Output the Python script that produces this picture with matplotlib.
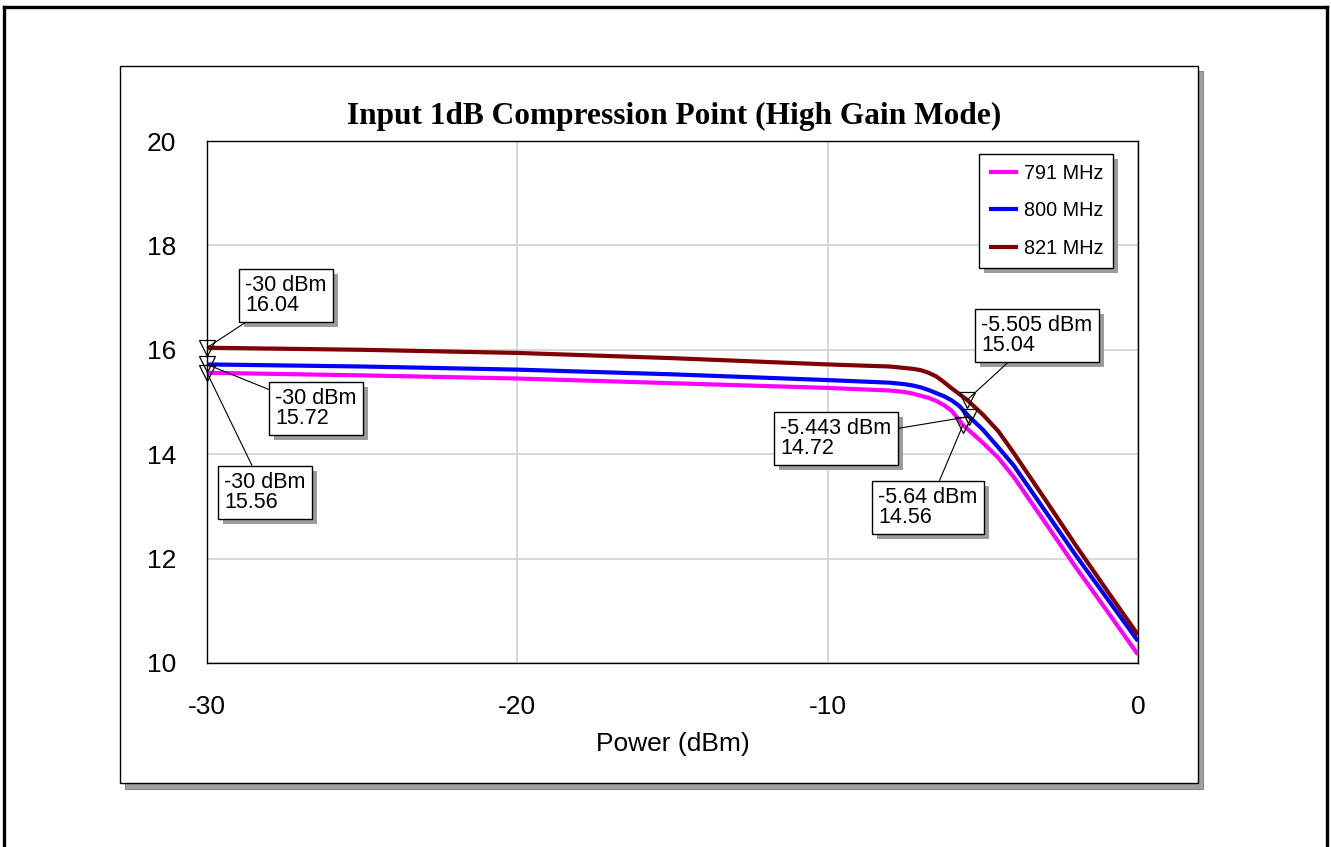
#!/usr/bin/env python3
"""Input P1dB compression sweep, high gain mode, three LTE band frequencies."""

import matplotlib
matplotlib.use('Agg')
import matplotlib.pyplot as plt
from matplotlib.patches import Rectangle
from matplotlib.lines import Line2D
from matplotlib.transforms import IdentityTransform

# Gain (dB) vs input power (dBm), one curve per carrier
pin_821 = [-30, -25, -20, -15, -10, -8, -7.5, -7.25, -7, -6.75, -6.5, -6.25, -6, -5.505,
           -5, -4.5, -4, -3, -2, -1, 0]
gain_821 = [16.04, 16.00, 15.94, 15.84, 15.72, 15.68, 15.65, 15.635, 15.61, 15.56, 15.49,
            15.38, 15.26, 15.04, 14.76, 14.44, 14.02, 13.14, 12.25, 11.39, 10.54]

pin_800 = [-30, -25, -20, -15, -10, -8, -7.5, -7.25, -7, -6.75, -6.5, -6.25, -6, -5.75,
           -5.443, -5, -4.5, -4, -3, -2, -1, 0]
gain_800 = [15.72, 15.68, 15.62, 15.53, 15.42, 15.37, 15.34, 15.315, 15.28, 15.23, 15.17,
            15.11, 15.03, 14.92, 14.72, 14.47, 14.13, 13.78, 12.92, 12.06, 11.24, 10.42]

pin_791 = [-30, -25, -20, -15, -10, -8, -7.5, -7.25, -7, -6.75, -6.5, -6.25, -6, -5.64,
           -5, -4.5, -4, -3, -2, -1, 0]
gain_791 = [15.56, 15.51, 15.45, 15.36, 15.27, 15.22, 15.19, 15.16, 15.12, 15.08, 15.02,
            14.94, 14.83, 14.56, 14.22, 13.93, 13.56, 12.70, 11.83, 11.00, 10.16]

series = [
    ('791 MHz', pin_791, gain_791, '#ff00ff'),
    ('800 MHz', pin_800, gain_800, '#0000ff'),
    ('821 MHz', pin_821, gain_821, '#800000'),
]

# marker readouts
mk_pin = [-30, -30, -30, -5.505, -5.443, -5.64]
mk_gain = [16.04, 15.72, 15.56, 15.04, 14.72, 14.56]

x_ticks = [-30, -20, -10, 0]
y_ticks = [10, 12, 14, 16, 18, 20]

W, H = 1331, 847
SANS = 'Liberation Sans'
SHADOW = '#9c9c9c'


def fx(px):
    return px / W


def fy(py):
    return 1 - py / H


fig = plt.figure(figsize=(W / 100, H / 100), dpi=100)

# outer frame (bottom edge runs off the page)
for xs, ys in [((4, 4), (847, 7)), ((4, 1327), (7, 7)), ((1327, 1327), (7, 847))]:
    fig.add_artist(Line2D([fx(v) for v in xs], [fy(v) for v in ys],
                          color='black', lw=2.4, transform=fig.transFigure))

# chart panel with drop shadow
fig.add_artist(Rectangle((fx(125), fy(789)), fx(1203 - 125), (789 - 71) / H,
                         transform=fig.transFigure, fc='#a0a0a0', ec='#8a8a8a',
                         lw=0.8, zorder=0))
fig.add_artist(Rectangle((fx(120), fy(783)), fx(1198 - 120), (783 - 66) / H,
                         transform=fig.transFigure, fc='white', ec='black',
                         lw=1.0, zorder=0.5))

ax = fig.add_axes([fx(207), fy(663), fx(1138 - 207), (663 - 141) / H])
ax.set_zorder(2)
ax.patch.set_alpha(0)

for label, xs, ys, c in series:
    ax.plot(xs, ys, color=c, lw=3.0, label=label, solid_capstyle='butt',
            solid_joinstyle='round', zorder=3)

ax.plot(mk_pin, mk_gain, ls='none', marker='v', ms=11, mfc='none',
        mec='black', mew=0.9, zorder=7, clip_on=False)

ax.set_xlim(-30, 0)
ax.set_ylim(10, 20)
ax.set_xticks(x_ticks)
ax.set_yticks(y_ticks)
ax.set_xticklabels([str(v) for v in x_ticks])
ax.tick_params(length=0, labelsize=19)
ax.tick_params(axis='y', pad=22)
ax.tick_params(axis='x', pad=23)
for lab in ax.get_xticklabels() + ax.get_yticklabels():
    lab.set_fontfamily(SANS)
ax.grid(True, color='#d4d4d4', lw=1.3)
ax.set_axisbelow(True)
for s in ax.spines.values():
    s.set_color('black')
    s.set_linewidth(1.0)

ax.set_xlabel('Power (dBm)', fontsize=19, fontfamily=SANS)
ax.xaxis.set_label_coords(0.5, -(732 - 663) / 522)

fig.text(fx(674), fy(116), 'Input 1dB Compression Point (High Gain Mode)',
         ha='center', va='center', fontsize=22.6, fontweight='bold',
         fontfamily='Liberation Serif')

leg = ax.legend(loc='upper left', bbox_to_anchor=(fx(979), fy(154)),
                bbox_transform=fig.transFigure, borderaxespad=0,
                prop={'family': SANS, 'size': 14.3}, fancybox=False,
                frameon=True, framealpha=1, handlelength=1.45, handletextpad=0.3,
                labelspacing=0.93, borderpad=0.5)
leg.get_frame().set_edgecolor('black')
leg.get_frame().set_linewidth(1.0)
leg.set_zorder(8)
for h in leg.get_lines():
    h.set_linewidth(3.0)

# readout boxes: top-left corner of each box, in image pixels
box_pos = [(239, 269), (269, 382), (218, 466), (975, 309), (774, 412), (872, 481)]
FS = 15.5
PAD = 0.3
pad_px = PAD * FS * 100 / 72

notes = []
for x, y, (bx, by) in zip(mk_pin, mk_gain, box_pos):
    txt = f'{x:g} dBm\n{y:.2f}'
    ann = ax.annotate(txt, xy=(x, y), xycoords='data',
                      xytext=(bx + pad_px, H - by - pad_px), textcoords='figure pixels',
                      ha='left', va='top', fontsize=FS, fontfamily=SANS,
                      linespacing=0.9, annotation_clip=False,
                      bbox=dict(boxstyle=f'square,pad={PAD}', fc='white', ec='black', lw=1),
                      arrowprops=dict(arrowstyle='-', color='black', lw=0.8,
                                      shrinkA=0, shrinkB=0),
                      zorder=6)
    notes.append(ann)

# drop shadows under the readout boxes and the legend
fig.canvas.draw()
for ann in notes:
    bb = ann.get_bbox_patch().get_window_extent()
    ax.add_artist(Rectangle((bb.x0 + 5, bb.y0 - 5), bb.width, bb.height,
                            transform=IdentityTransform(), fc=SHADOW, ec='none',
                            zorder=5.5, clip_on=False))
bb = leg.get_frame().get_window_extent()
ax.add_artist(Rectangle((bb.x0 + 5, bb.y0 - 5), bb.width, bb.height,
                        transform=IdentityTransform(), fc=SHADOW, ec='none',
                        zorder=7.5, clip_on=False))

fig.savefig('out.png', dpi=100)
plt.close('all')
